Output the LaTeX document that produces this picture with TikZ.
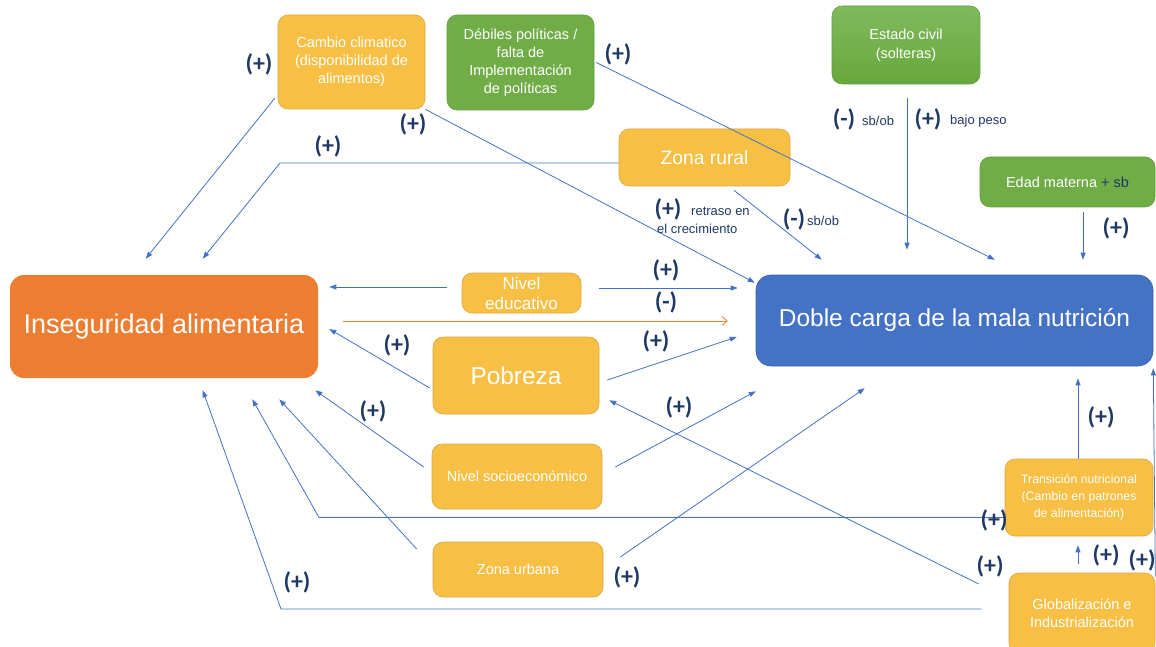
\documentclass[tikz,border=0pt]{standalone}
\usepackage{fontspec}
\setmainfont{Liberation Sans}
\newfontfamily\lblfont{Carlito}
\usetikzlibrary{arrows.meta,calc}
\definecolor{orangebox}{HTML}{ED7D31}
\definecolor{bluebox}{HTML}{4472C4}
\definecolor{blueedge}{HTML}{3A63AE}
\definecolor{yellowbox}{HTML}{F8BF45}
\definecolor{yellowedge}{HTML}{DCA63F}
\definecolor{greenbox}{HTML}{70AD47}
\definecolor{greenedge}{HTML}{62A03C}
\definecolor{greentop}{HTML}{80BA5C}
\definecolor{greenbot}{HTML}{67A83C}
\definecolor{linkblue}{HTML}{4472C4}
\definecolor{navy}{HTML}{1F3864}
\begin{document}
\begin{tikzpicture}[x=1pt,y=-1pt,
 box/.style={rectangle, rounded corners=10pt, inner sep=0pt, align=center, text=white, line width=0.6pt},
 ybox/.style={box, fill=yellowbox, draw=yellowedge},
 gbox/.style={box, fill=greenbox, draw=greenedge},
 arr/.style={draw=linkblue, line width=0.8pt, -{Triangle[length=7pt,width=5pt]}},
 oarr/.style={draw=orangebox, line width=0.8pt, -{Straight Barb[length=5pt,width=9pt]}},
 pm/.style={text=navy, font=\lblfont\bfseries\fontsize{24}{24}\selectfont, inner sep=0pt},
 note/.style={text=navy, font=\fontsize{13}{15}\selectfont, inner sep=0pt, anchor=west},
 sm/.style={font=\fontsize{14.5}{18}\selectfont}
]
\fill[white] (0,0) rectangle (1156,647);
\useasboundingbox (0,0) rectangle (1156,647);

% ---------- nodes ----------
\node[box, fill=orangebox, rounded corners=14pt, minimum width=308pt, minimum height=103pt,
      font=\fontsize{27}{30}\selectfont] (inseg) at (164,326.5) {Inseguridad alimentaria};
\node[box, fill=bluebox, draw=blueedge, rounded corners=15pt, minimum width=397pt, minimum height=91pt,
      font=\fontsize{24.5}{28}\selectfont] (doble) at (954.5,320.5) {Doble carga de la mala nutrición};
\node[ybox, sm, minimum width=147pt, minimum height=94pt] (cambio) at (351.5,62)
      {Cambio climatico\\(disponibilidad de\\alimentos)};
\node[gbox, sm, minimum width=147pt, minimum height=95pt] (debiles) at (520.5,62.5)
      {Débiles políticas /\\falta de\\Implementación\\de políticas};
\node[box, draw=greenedge, top color=greentop, bottom color=greenbot,
      minimum width=148pt, minimum height=78pt, font=\fontsize{14.5}{19}\selectfont] (estado) at (906,45)
      {Estado civil\\(solteras)};
\node[ybox, minimum width=171pt, minimum height=57pt, font=\fontsize{19.3}{22}\selectfont] (rural) at (704.5,157.5) {Zona rural};
\node[gbox, sm, minimum width=175pt, minimum height=50pt] (edad) at (1067.5,182)
      {Edad materna \textcolor{navy}{+ sb}};
\node[ybox, minimum width=119pt, minimum height=40pt, font=\fontsize{17}{20}\selectfont] (niveled) at (521.5,293)
      {Nivel\\educativo};
\node[ybox, minimum width=166pt, minimum height=77pt, font=\fontsize{24.4}{28}\selectfont] (pobreza) at (516,375.5) {Pobreza};
\node[ybox, sm, minimum width=170pt, minimum height=65pt] (nse) at (517,476.5) {Nivel socioeconómico};
\node[ybox, sm, minimum width=170pt, minimum height=55pt] (urbana) at (518,569.5) {Zona urbana};
\node[ybox, minimum width=148pt, minimum height=77pt, font=\fontsize{12.3}{17}\selectfont] (trans) at (1079,497.5)
      {Transición nutricional\\(Cambio en patrones\\de alimentación)};
\node[ybox, sm, minimum width=146pt, minimum height=80pt] (glob) at (1082,613)
      {Globalización e\\Industrialización};

% ---------- connectors ----------
\draw[arr] ($(cambio.south west)+(-3,-11)$) -- ($(inseg.north west)+(136,-16)$);
\draw[arr] (cambio.south east) -- ($(doble.north west)+(-1,8)$);
\coordinate (rbend) at (280,163);
\draw[arr] ($(rural.west)+(0,5.5)$) -- (rbend) -- ($(inseg.north west)+(193,-16)$);
\draw[arr] ($(rural.south)+(29.5,4)$) -- ($(doble.north west)+(66,-15)$);
\draw[arr] ($(debiles.east)+(2,0)$) -- ($(doble.north west)+(239,-15)$);
\draw[arr] ($(estado.south)+(1,14)$) -- ($(doble.north)+(-47.5,-25)$);
\draw[arr] ($(edad.south)+(15.5,5)$) -- ($(doble.north)+(128.5,-15)$);
\draw[arr] ($(niveled.west)+(-15,-6)$) -- ($(inseg.east)+(11,-39.5)$);
\draw[arr] ($(niveled.east)+(18,-5)$) -- ($(doble.west)+(-18,-32.5)$);
\draw[oarr] ($(inseg.east)+(25,-5.5)$) -- ($(doble.west)+(-28,0.5)$);
\draw[arr] ($(pobreza.west)+(-3,12.5)$) -- ($(inseg.east)+(11,2.5)$);
\draw[arr] ($(pobreza.east)+(8,4.5)$) -- ($(doble.west)+(-19,16.5)$);
\draw[arr] ($(nse.west)+(-8,-9.5)$) -- ($(inseg.south east)+(-3,12)$);
\draw[arr] ($(nse.east)+(13,-9.5)$) -- ($(doble.south west)+(0,25)$);
\draw[arr] ($(urbana.west)+(-16,-20.5)$) -- ($(inseg.south east)+(-39,21)$);
\draw[arr] ($(urbana.east)+(17,-12.5)$) -- ($(doble.south west)+(109,22)$);
\coordinate (tbend) at (319,517.5);
\draw[arr] ($(trans.west)+(0,20)$) -- (tbend) -- ($(inseg.south east)+(-66,21)$);
\draw[arr] ($(trans.north)+(-1,0)$) -- ($(doble.south)+(123.5,12)$);
\draw[arr] ($(glob.north)+(-4,-9)$) -- ($(trans.south)+(-1,9)$);
\draw[arr] ($(glob.north east)+(0,4)$) -- ($(doble.south east)+(0,2)$);
\draw[arr] ($(glob.west)+(-30,-29)$) -- ($(pobreza.south east)+(10,-14)$);
\coordinate (gbend) at (281,609);
\draw[arr] ($(glob.west)+(-27,-4)$) -- (gbend) -- ($(inseg.south west)+(193,12)$);

% ---------- labels ----------
\node[pm] (l1) at (259,64) {(+)};
\node[pm] (l2) at (413,124) {(+)};
\node[pm] (l3) at (328,146) {(+)};
\node[pm] (l4) at (618,54) {(+)};
\node[pm] (l5) at (668,209) {(+)};
\node[note] (l5a) at (691,211) {retraso en};
\node[note] (l5b) at (657,229) {el crecimiento};
\node[pm] (l6) at (794,219) {(-)};
\node[note] (l6a) at (807,221) {sb/ob};
\node[pm] (l7) at (844,119) {(-)};
\node[note] (l7a) at (862,121) {sb/ob};
\node[pm] (l8) at (928,119) {(+)};
\node[note] (l8a) at (950,121) {bajo peso};
\node[pm] (l9) at (1116,228) {(+)};
\node[pm] (l10) at (666,270) {(+)};
\node[pm] (l11) at (666,302) {(-)};
\node[pm] (l12) at (397,345) {(+)};
\node[pm] (l13) at (656,341) {(+)};
\node[pm] (l14) at (373,411) {(+)};
\node[pm] (l15) at (679,407) {(+)};
\node[pm] (l16) at (627,577) {(+)};
\node[pm] (l17) at (297,582) {(+)};
\node[pm] (l18) at (994,520) {(+)};
\node[pm] (l19) at (990,566) {(+)};
\node[pm] (l20) at (1101,417) {(+)};
\node[pm] (l21) at (1106,555) {(+)};
\node[pm] (l22) at (1142,560) {(+)};
\end{tikzpicture}
\end{document}
